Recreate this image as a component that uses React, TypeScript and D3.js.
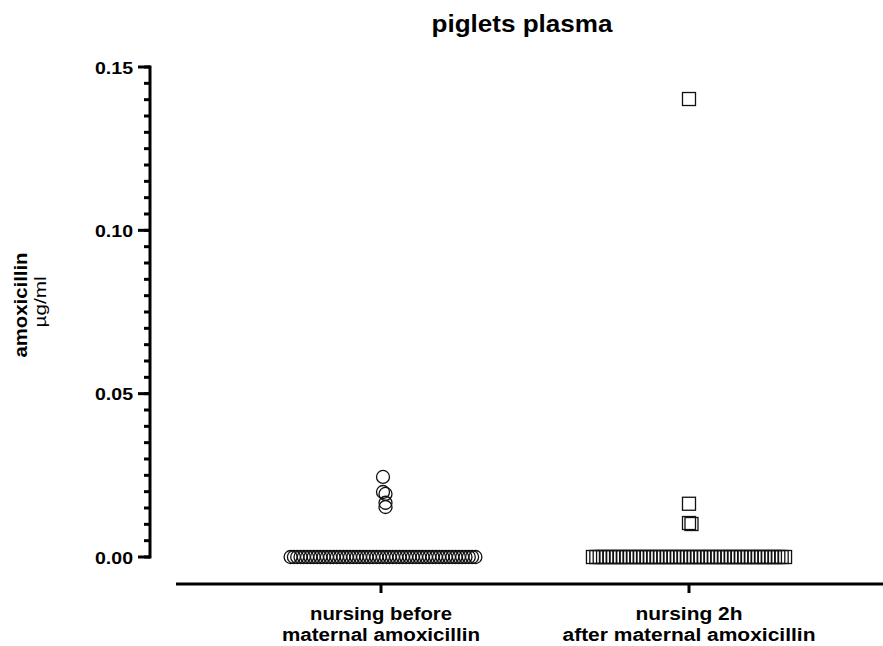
import { useEffect, useRef } from 'react'
import * as d3 from 'd3'

const W = 883
const H = 646

const categories = ['before', 'after']
const categoryLines = [
  ['nursing before', 'maternal amoxicillin'],
  ['nursing 2h', 'after maternal amoxicillin'],
]
const yTicks = [0, 0.05, 0.1, 0.15]

// µg/ml, nursing before maternal amoxicillin (circles)
const beforeValues = [
  0.0245, 0.0199, 0.0193, 0.0166, 0.0153,
  0, 0, 0, 0, 0, 0, 0, 0, 0, 0, 0, 0, 0, 0, 0, 0, 0, 0, 0, 0,
  0, 0, 0, 0, 0, 0, 0, 0, 0, 0, 0, 0, 0, 0, 0, 0, 0, 0, 0, 0,
  0, 0, 0, 0, 0, 0, 0, 0, 0, 0, 0, 0, 0, 0, 0, 0, 0,
]
// µg/ml, nursing 2h after maternal amoxicillin (squares)
const afterValues = [
  0.1402, 0.0163, 0.0104, 0.0101,
  0, 0, 0, 0, 0, 0, 0, 0, 0, 0, 0, 0, 0, 0, 0, 0, 0, 0, 0, 0,
  0, 0, 0, 0, 0, 0, 0, 0, 0, 0, 0, 0, 0, 0, 0, 0, 0, 0, 0, 0,
  0, 0, 0, 0, 0, 0, 0, 0, 0, 0, 0, 0, 0, 0, 0, 0, 0, 0,
]

const font = "'Liberation Sans', Arial, sans-serif"
// rendered widths of the labels (the original font runs wide)
const labelWidths = [[142, 198], [107, 253]]

// spread points that share a value sideways, like a scatter dot plot
function layout(values: number[], y: (v: number) => number, step: number) {
  const out: { x: number; y: number }[] = []
  const groups = d3.group(values.map((v, i) => ({ v, i })), d => d.v)
  groups.forEach(items => {
    const n = items.length
    items.forEach((d, k) => {
      out[d.i] = { x: (k - (n - 1) / 2) * step, y: y(d.v) }
    })
  })
  // nudge nearby single points
  out.forEach((p, i) => {
    const near = out.slice(0, i).filter(q => Math.abs(q.y - p.y) < 9 && Math.abs(q.y - p.y) > 0).length
    if (near > 0) p.x += (near % 2 ? 1 : -1) * Math.ceil(near / 2) * 2.5
  })
  return out
}

export default function App() {
  const svgRef = useRef<SVGSVGElement | null>(null)

  useEffect(() => {
    if (!svgRef.current) return
    const svg = d3.select(svgRef.current)
    svg.selectAll('*').remove()

    const y = d3.scaleLinear().domain([0, 0.15]).range([557, 67])
    const x = d3.scalePoint<string>().domain(categories).range([176, 894]).padding(0.6656)

    // title
    svg.append('text').attr('x', 522).attr('y', 32)
      .attr('text-anchor', 'middle').attr('font-family', font)
      .attr('font-weight', 'bold').attr('font-size', '23px')
      .attr('textLength', 181).attr('lengthAdjust', 'spacingAndGlyphs')
      .text('piglets plasma')

    // y axis: minor ticks then major
    const minor = d3.range(0, 0.1501, 0.005)
    const ya = svg.append('g')
    ya.append('line').attr('x1', 150).attr('x2', 150).attr('y1', 65.5).attr('y2', 558.5)
      .attr('stroke', '#000').attr('stroke-width', 3)
    ya.selectAll('line.minor').data(minor).join('line').attr('class', 'minor')
      .attr('x1', 144).attr('x2', 150).attr('y1', d => y(d)).attr('y2', d => y(d))
      .attr('stroke', '#000').attr('stroke-width', 3)
    ya.selectAll('line.major').data(yTicks).join('line').attr('class', 'major')
      .attr('x1', 138).attr('x2', 150).attr('y1', d => y(d)).attr('y2', d => y(d))
      .attr('stroke', '#000').attr('stroke-width', 3)
    ya.selectAll('text').data(yTicks).join('text')
      .attr('x', 133).attr('y', d => y(d) + 6.5)
      .attr('text-anchor', 'end').attr('font-family', font)
      .attr('font-weight', 'bold').attr('font-size', '17px')
      .attr('textLength', 38).attr('lengthAdjust', 'spacingAndGlyphs')
      .text(d => d3.format('.2f')(d))

    // y label
    svg.append('text').attr('transform', 'translate(27,305) rotate(-90)')
      .attr('text-anchor', 'middle').attr('font-family', font)
      .attr('font-weight', 'bold').attr('font-size', '18.5px')
      .attr('textLength', 105).attr('lengthAdjust', 'spacingAndGlyphs')
      .text('amoxicillin')
    svg.append('text').attr('transform', 'translate(46,302) rotate(-90)')
      .attr('text-anchor', 'middle').attr('font-family', font)
      .attr('font-size', '17px')
      .attr('textLength', 51).attr('lengthAdjust', 'spacingAndGlyphs')
      .text('µg/ml')

    // x axis
    const xa = svg.append('g')
    xa.append('line').attr('x1', 176).attr('x2', 894).attr('y1', 584).attr('y2', 584)
      .attr('stroke', '#000').attr('stroke-width', 3)
    categories.forEach((c, i) => {
      const cx = x(c)!
      xa.append('line').attr('x1', cx).attr('x2', cx).attr('y1', 584).attr('y2', 593)
        .attr('stroke', '#000').attr('stroke-width', 3)
      categoryLines[i].forEach((t, j) => {
        xa.append('text').attr('x', cx).attr('y', 620 + j * 21)
          .attr('text-anchor', 'middle').attr('font-family', font)
          .attr('font-weight', 'bold').attr('font-size', '18px')
          .attr('textLength', labelWidths[i][j]).attr('lengthAdjust', 'spacingAndGlyphs')
          .text(t)
      })
    })

    // points
    const yp = (v: number) => y(v)
    const c0 = x(categories[0])!
    layout(beforeValues, yp, 3.3).forEach(p => {
      svg.append('circle').attr('cx', c0 + 2 + p.x).attr('cy', p.y).attr('r', 6.5)
        .attr('fill', 'none').attr('stroke', '#111').attr('stroke-width', 1.3)
    })
    const c1 = x(categories[1])!
    layout(afterValues, yp, 3.37).forEach(p => {
      svg.append('rect').attr('x', c1 + p.x - 6.5).attr('y', p.y - 6.5)
        .attr('width', 13).attr('height', 13)
        .attr('fill', 'none').attr('stroke', '#111').attr('stroke-width', 1.3)
    })
  }, [])

  return (
    <div style={{ position: 'absolute', left: 0, top: 0, background: '#fff' }}>
      <svg ref={svgRef} width={W} height={H} viewBox={`0 0 ${W} ${H}`} style={{ display: 'block' }} />
    </div>
  )
}
